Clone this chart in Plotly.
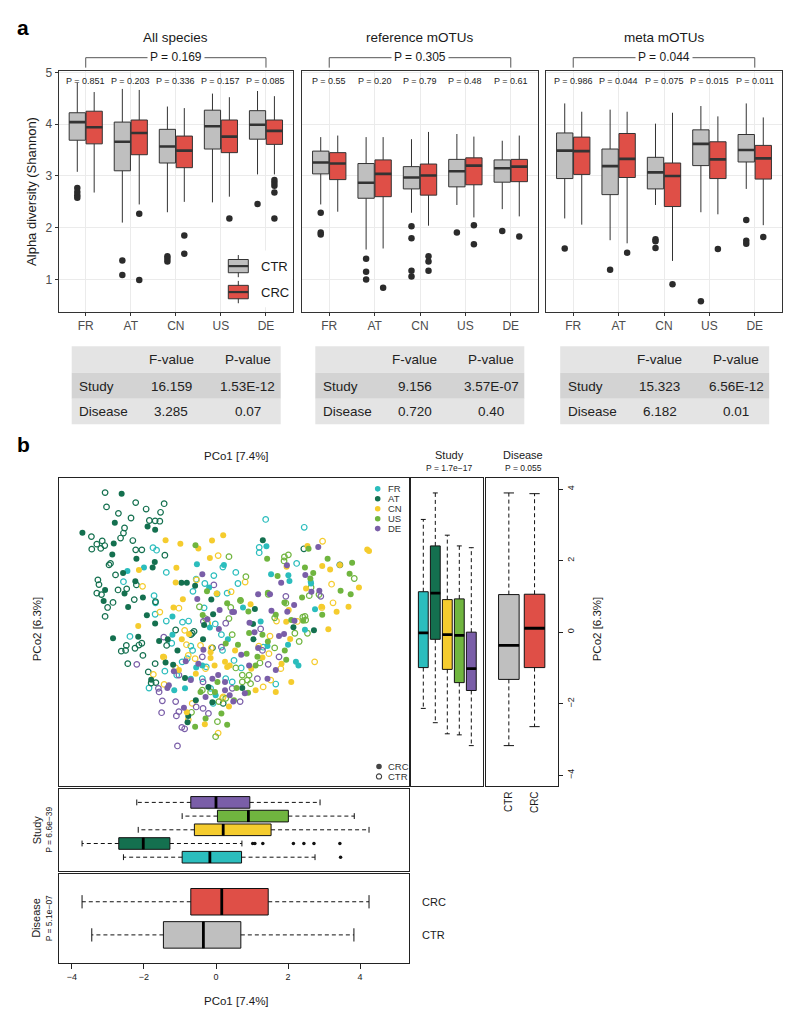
import plotly.graph_objects as go

W, H = 800, 1025

COUNTRIES = ["FR", "AT", "CN", "US", "DE"]
CTR_FILL = "#bfbfbf"
CRC_FILL = "#df4f47"
STUDY_COLORS = ["#2bbdbd", "#14704f", "#f5cc2e", "#70b53f", "#7a5ea8"]

# ---------------- panel a : alpha diversity  [low whisker, Q1, median, Q3, high whisker]
ALL_CTR = [[3.08, 3.69, 4.04, 4.22, 4.80], [2.10, 3.10, 3.66, 4.04, 4.68], [2.30, 3.25, 3.57, 3.90, 4.34],
           [2.49, 3.52, 3.96, 4.27, 4.59], [3.03, 3.71, 3.99, 4.26, 4.64]]
ALL_CRC = [[2.68, 3.62, 3.94, 4.25, 4.62], [2.45, 3.41, 3.83, 4.08, 4.66], [2.50, 3.16, 3.49, 3.77, 4.31],
           [2.60, 3.45, 3.76, 4.08, 4.52], [3.03, 3.61, 3.87, 4.08, 4.54]]
ALL_CTR_OUT = [[2.77, 2.69, 2.63, 2.58], [1.37, 1.09], [1.45, 1.40, 1.35], [], [2.46]]
ALL_CRC_OUT = [[], [2.27, 0.99], [1.85, 1.50], [2.18], [2.92, 2.87, 2.81, 2.68, 2.18]]

REF_CTR = [[2.45, 3.04, 3.26, 3.48, 3.75], [1.58, 2.57, 2.87, 3.24, 3.75], [2.29, 2.75, 2.97, 3.18, 3.71],
           [2.44, 2.79, 3.09, 3.32, 3.81], [2.36, 2.88, 3.15, 3.31, 3.68]]
REF_CRC = [[2.31, 2.93, 3.24, 3.45, 3.78], [1.60, 2.60, 3.04, 3.31, 3.75], [2.04, 2.63, 3.01, 3.23, 3.85],
           [2.20, 2.83, 3.20, 3.35, 3.76], [2.22, 2.89, 3.18, 3.32, 3.78]]
REF_CTR_OUT = [[2.29, 1.91, 1.87], [1.40, 1.15, 1.00], [2.03, 1.80, 1.17, 1.06], [1.91], [1.94]]
REF_CRC_OUT = [[], [0.84], [1.45, 1.35, 1.17], [2.05, 1.68], [1.83]]

META_CTR = [[2.18, 2.95, 3.49, 3.83, 4.40], [1.76, 2.64, 3.19, 3.52, 4.28], [2.44, 2.75, 3.07, 3.36, 4.01],
            [2.30, 3.20, 3.62, 3.89, 4.35], [2.75, 3.27, 3.50, 3.80, 4.40]]
META_CRC = [[2.06, 3.03, 3.48, 3.75, 4.24], [1.70, 2.97, 3.33, 3.82, 4.24], [1.36, 2.41, 3.00, 3.25, 4.22],
            [2.26, 2.95, 3.32, 3.66, 4.15], [2.05, 2.94, 3.34, 3.59, 4.13]]
META_CTR_OUT = [[1.60], [1.19], [1.78, 1.74, 1.61], [0.58], [2.15, 1.75, 1.69]]
META_CRC_OUT = [[], [1.52], [0.91], [1.59], [1.82]]

PANEL_TITLES = ["All species", "reference mOTUs", "meta mOTUs"]
OVERALL_P = ["P = 0.169", "P = 0.305", "P = 0.044"]
ALL_P = ["P = 0.851", "P = 0.203", "P = 0.336", "P = 0.157", "P = 0.085"]
REF_P = ["P = 0.55", "P = 0.20", "P = 0.79", "P = 0.48", "P = 0.61"]
META_P = ["P = 0.986", "P = 0.044", "P = 0.075", "P = 0.015", "P = 0.011"]

TABLE_HEAD = ["F-value", "P-value"]
TABLE_ROWS = ["Study", "Disease"]
ALL_F = ["16.159", "3.285"]
ALL_PV = ["1.53E-12", "0.07"]
REF_F = ["9.156", "0.720"]
REF_PV = ["3.57E-07", "0.40"]
META_F = ["15.323", "6.182"]
META_PV = ["6.56E-12", "0.01"]

# ---------------- panel b : PCoA (PCo1, PCo2)
FR_CRC = [(-2.46, 1.71), (-2.00, 1.81), (-0.53, 1.90), (-1.21, 0.44), (-0.17, 0.13), (0.22, 1.88), (-0.19, 1.25),
          (1.40, 2.40), (1.53, 1.62), (2.01, 1.59), (2.04, 1.43), (2.63, 1.41), (0.75, 0.69), (2.75, 0.64),
          (1.24, 0.30), (2.47, 0.07), (2.64, 1.36), (-1.21, -0.07), (-0.55, -0.99), (-0.86, -1.57),
          (-0.38, -0.93), (-1.16, -1.62), (-0.70, -1.30), (0.33, -0.20), (-0.01, -1.76), (2.00, -0.35),
          (2.22, -0.83), (2.29, -0.93), (1.43, -0.39)]
FR_CTR = [(-1.75, 2.36), (-1.65, 2.29), (-1.38, 1.67), (-2.57, 1.41), (-1.72, 1.02), (-1.68, 0.82), (-1.69, 0.50),
          (-1.38, 0.31), (-0.93, 0.28), (-0.76, 0.31), (-0.06, 1.58), (-0.55, 1.48), (-0.31, 1.36), (-0.64, 1.14),
          (0.19, 1.82), (0.03, 1.07), (0.31, 1.09), (-0.33, 0.68), (-0.25, 0.23), (-0.02, 0.23), (1.38, 3.15),
          (2.45, 2.93), (1.20, 2.37), (1.20, 2.22), (2.24, 1.92), (0.55, 1.67), (0.61, 1.36), (-2.39, -0.12),
          (-1.86, -1.56), (-1.42, -1.09), (-1.23, -0.31), (-1.09, -1.20), (-0.94, -0.83), (-0.80, -0.74),
          (-0.70, -0.39), (-0.65, -0.51), (-0.38, -1.30), (-0.27, -0.97), (-0.15, -1.57), (-0.08, -1.99),
          (0.15, -0.07), (0.18, -0.51), (0.27, -1.30), (0.45, -1.39), (1.31, -0.42), (0.70, -1.00),
          (1.66, -1.45), (0.50, -0.79)]
AT_CRC = [(-2.62, 3.87), (-2.81, 3.06), (-3.71, 2.78), (-1.90, 2.95), (-1.69, 2.86), (-2.84, 2.48), (-2.88, 2.17),
          (-2.21, 2.05), (-1.70, 1.96), (-1.76, 1.81), (-2.58, 1.65), (-2.24, 1.42), (-3.08, 1.18), (-2.54, 1.08),
          (-3.12, 0.87), (-2.44, 0.70), (-2.03, 0.97), (-1.92, 0.47), (-1.69, 0.24), (-0.96, 1.38), (-0.81, 1.38),
          (-0.58, 1.30), (-0.08, 0.50), (-0.13, 0.91), (-0.33, 0.20), (1.30, 2.57), (1.08, 0.65), (1.03, 0.23),
          (2.15, 0.14), (2.72, 0.05), (-2.86, -0.17), (-2.16, -0.13), (-1.58, -0.25), (-1.34, -0.20),
          (-1.07, -0.51), (-1.40, -0.85), (-1.19, -0.91), (-1.80, -1.33), (-0.86, -1.28), (-0.56, -1.90),
          (-0.79, -2.52), (-0.77, -2.34), (-0.36, -0.20), (-0.21, -1.53), (-0.10, -1.96), (0.73, -1.56),
          (1.04, -0.20)]
AT_CTR = [(-3.08, 3.90), (-3.04, 3.50), (-2.71, 3.32), (-2.23, 3.62), (-1.94, 3.44), (-1.44, 3.59), (-1.54, 3.35),
          (-2.36, 3.19), (-1.85, 3.12), (-1.69, 3.11), (-1.56, 3.10), (-2.54, 2.91), (-2.57, 2.77), (-2.65, 2.63),
          (-3.46, 2.67), (-3.31, 2.46), (-3.16, 2.55), (-3.20, 2.34), (-3.09, 2.42), (-3.45, 2.32), (-2.31, 2.56),
          (-2.23, 2.30), (-2.06, 2.30), (-1.42, 2.15), (-2.93, 1.92), (-2.97, 1.88), (-2.79, 1.60), (-3.28, 1.46),
          (-3.25, 1.33), (-3.31, 1.09), (-3.18, 1.05), (-2.72, 1.18), (-2.48, 1.21), (-2.86, 0.83), (-3.01, 0.69),
          (-3.08, 0.44), (-2.21, 1.32), (-2.27, 0.91), (-1.68, 0.85), (-0.61, 0.02), (-1.12, 0.06), (2.44, 2.33),
          (3.44, 1.88), (-2.63, -0.53), (-2.51, -0.51), (-2.49, -0.37), (-2.25, -0.45), (-2.14, -0.36),
          (-2.06, -0.31), (-2.03, -0.65), (-2.45, -0.88), (-1.69, -0.88), (-1.88, -1.11), (-1.67, -1.41),
          (-1.80, -1.42), (-1.37, -0.37), (-0.70, -0.07), (-0.10, -0.44), (0.20, -1.99), (-0.66, -0.03)]
CN_CRC = [(-1.40, 2.57), (-0.99, 2.47), (-0.11, 2.56), (0.20, 2.71), (-0.49, 2.34), (-0.17, 2.07), (-2.14, 1.74),
          (-1.10, 1.80), (-1.12, 1.39), (-0.92, 0.92), (-1.18, 0.69), (-2.16, 0.17), (0.02, 1.08), (2.54, 2.41),
          (1.96, 1.83), (2.95, 1.85), (3.17, 1.75), (2.50, 1.22), (3.97, 1.25), (3.68, 0.71), (3.35, 0.57),
          (2.93, 0.71), (0.96, 0.78), (4.20, 2.31), (4.25, 2.27), (3.12, 0.08), (2.02, 0.62), (1.95, 0.29),
          (3.44, 1.88), (-0.95, -0.20), (-1.47, -0.69), (-1.03, -1.06), (-0.56, -1.16), (-0.15, -0.72),
          (-0.04, -0.93), (0.25, -0.83), (0.38, -0.93), (0.31, -0.97), (-0.31, -2.57), (-0.15, -0.56),
          (-0.81, -2.24), (0.36, -2.08), (-0.75, -0.05), (2.06, -0.19), (1.29, -0.71), (1.82, -0.88),
          (0.98, -1.02), (2.09, -1.39), (1.66, -1.67), (1.10, -1.62), (0.53, -0.51)]
CN_CTR = [(-2.04, 1.28), (-0.54, 1.46), (0.06, 2.14), (-1.03, 0.67), (-1.56, 0.56), (-0.87, 0.05), (-0.23, 0.25),
          (0.42, 1.13), (2.96, 2.54), (3.21, 1.34), (3.25, 0.82), (2.94, 0.69), (1.68, 0.31), (0.81, 1.40),
          (2.26, 0.30), (-1.74, -1.18), (-1.45, -0.70), (-1.44, -1.46), (-1.12, -1.00), (-0.82, -0.35),
          (-0.77, -0.65), (-0.58, -0.74), (-0.43, -0.37), (-0.13, -0.44), (-0.29, -1.02), (0.18, -1.85),
          (0.20, -1.81), (0.06, -2.82), (-0.66, -1.99), (-0.77, -2.45), (1.47, -0.60), (1.80, -1.02),
          (2.74, -0.83), (1.52, -1.34), (1.31, -1.53), (1.50, -0.11), (1.19, -0.39)]
US_CRC = [(-0.57, 2.43), (-0.25, 1.14), (-0.37, 0.48), (0.31, 0.81), (2.57, 2.33), (1.42, 2.05), (3.10, 2.05),
          (3.78, 1.94), (2.47, 1.81), (2.70, 1.65), (1.71, 1.57), (2.62, 1.50), (3.71, 1.63), (3.46, 1.16),
          (3.74, 1.06), (2.39, 0.97), (1.44, 1.10), (1.90, 0.83), (2.95, 0.49), (1.66, 0.49), (0.90, 0.58),
          (0.68, 0.90), (2.09, 0.34), (2.42, 0.32), (-0.03, -1.67), (-0.58, -2.64), (0.31, -2.59), (0.15, -2.27),
          (-0.29, -2.41), (0.27, -0.32), (0.04, -1.39), (-0.43, -1.67), (0.61, -0.35), (0.85, -0.60),
          (1.15, -0.69), (1.44, -0.26), (1.91, -0.51), (1.95, -0.77), (1.10, -0.93), (0.57, -1.56),
          (0.89, -1.69), (0.50, -1.90), (0.92, -0.02), (1.29, -0.07)]
US_CTR = [(0.36, 2.11), (-0.46, 0.71), (-0.29, 0.38), (0.41, 0.69), (0.36, 0.38), (1.90, 2.10), (2.01, 2.16),
          (1.89, 1.99), (0.83, 1.55), (3.84, 1.50), (2.64, 1.25), (2.59, 1.02), (2.86, 1.05), (1.45, 1.06),
          (1.94, 0.81), (0.68, 0.88), (2.41, 0.42), (2.49, 0.34), (2.47, 0.44), (1.63, 0.40), (-0.01, -2.92),
          (0.04, -2.50), (-0.68, -2.24), (-0.38, -1.62), (-0.15, -1.67), (0.27, -1.85), (0.08, -1.94),
          (0.45, -0.07), (0.55, -1.00), (0.73, -1.20), (0.92, -1.20), (0.73, -1.39), (0.96, -1.44),
          (1.22, -0.86), (1.63, -0.44), (2.31, -0.26), (2.54, -0.03), (2.19, -0.03), (0.87, -1.34)]
DE_CRC = [(-0.38, 1.62), (-0.52, 0.93), (0.10, 0.62), (0.45, 0.56), (-0.24, 0.36), (0.08, 0.09), (2.84, 2.38),
          (1.97, 1.87), (2.48, 1.60), (1.81, 1.38), (2.65, 1.13), (2.87, 1.16), (1.17, 1.06), (1.50, 1.06),
          (2.17, 0.76), (1.54, 0.60), (1.98, 0.57), (0.50, 0.56), (0.93, 0.26), (2.18, 0.32), (-1.35, -1.56),
          (-1.31, -1.48), (-1.17, -1.09), (-0.84, -0.81), (-0.70, -1.34), (-0.49, -0.88), (-0.35, -0.49),
          (-0.10, -1.30), (0.06, -1.20), (0.25, -1.39), (0.38, -1.76), (-0.29, -1.81), (-0.89, -2.11),
          (0.25, -1.62), (0.48, -1.94), (1.75, -0.11), (1.89, -0.05), (1.17, -0.44), (0.92, -0.93),
          (1.66, -1.06), (1.43, -1.30), (0.80, -1.71), (0.70, -0.63), (1.07, 0.00)]
DE_CTR = [(-0.06, 1.32), (-0.35, 0.30), (0.27, 0.25), (1.94, 1.00), (2.91, 1.00), (1.24, 0.09), (-2.20, -0.90),
          (-1.60, -1.57), (-1.58, -1.67), (-1.49, -1.92), (-1.51, -2.25), (-1.12, -1.94), (-1.10, -2.34),
          (-1.03, -2.22), (-0.95, -2.66), (-0.87, -2.70), (-1.07, -3.18), (-0.38, -0.69), (-0.36, -1.39),
          (-0.21, -2.27), (-0.36, -2.13), (-1.45, -0.14), (-1.03, -1.20), (0.15, -0.42), (0.45, -1.57),
          (-0.55, -2.09), (1.29, -0.51), (1.75, -0.69), (1.45, -0.90), (1.15, -1.30), (0.67, -1.94)]

# marginal boxplots  [low whisker, Q1, median, Q3, high whisker]
STUDY_PCO2 = [[-2.13, -0.99, -0.02, 1.13, 3.15], [-2.53, -0.20, 1.09, 2.41, 3.89], [-2.84, -1.04, -0.07, 0.91, 2.71],
              [-2.87, -1.41, -0.09, 0.93, 2.41], [-3.17, -1.63, -1.02, 0.00, 2.36]]
DISEASE_PCO2 = [[-3.17, -1.32, -0.37, 1.05, 3.89], [-2.64, -0.99, 0.11, 1.06, 3.87]]
STUDY_PCO1 = [[-2.57, -0.94, -0.17, 0.71, 2.75], [-3.72, -2.70, -2.02, -1.28, 0.72], [-2.16, -0.60, 0.20, 1.53, 4.25],
              [-0.94, 0.04, 0.90, 2.01, 3.84], [-2.20, -0.70, 0.00, 0.94, 2.89]]
STUDY_PCO1_OUT = [[3.46], [1.02, 1.08, 1.30, 2.15, 2.44, 2.72, 3.44], [], [], []]
DISEASE_PCO1 = [[-3.45, -1.46, -0.35, 0.69, 3.83], [-3.72, -0.70, 0.16, 1.45, 4.25]]

PCO1_LABEL = "PCo1 [7.4%]"
PCO2_LABEL = "PCo2 [6.3%]"
STUDY_P_PCO2 = "P = 1.7e\u221217"
DISEASE_P_PCO2 = "P = 0.055"
STUDY_P_PCO1 = "P = 6.6e\u221239"
DISEASE_P_PCO1 = "P = 5.1e\u221207"

FONT = "Liberation Sans, Arial, Helvetica, sans-serif"


def xp(v):
    return v / W


def yp(v):
    return 1 - v / H


fig = go.Figure()
layout = {}
annotations = []
shapes = []


def ann(text, x, y, size, color="#1a1a1a", xanchor="center", yanchor="middle", angle=0,
        xref="paper", yref="paper", bold=False, bg=None, pad=1, family=FONT):
    d = dict(text=("<b>%s</b>" % text) if bold else text, x=x, y=y, xref=xref, yref=yref,
             xanchor=xanchor, yanchor=yanchor, showarrow=False, textangle=angle,
             font=dict(size=size, color=color, family=family), borderpad=pad)
    if bg:
        d["bgcolor"] = bg
    annotations.append(d)


def sfx(n):
    return "" if n == 1 else str(n)


# ================= panel a =================
PANEL_A_X = [(58.7, 293.0), (302.0, 538.0), (546.0, 782.0)]
A_TOP, A_BOT = 65.7, 307.5
OFF = 0.1875
BOXW = 0.36

panel_data = [(ALL_CTR, ALL_CRC, ALL_CTR_OUT, ALL_CRC_OUT, ALL_P),
              (REF_CTR, REF_CRC, REF_CTR_OUT, REF_CRC_OUT, REF_P),
              (META_CTR, META_CRC, META_CTR_OUT, META_CRC_OUT, META_P)]
tables = [(ALL_F, ALL_PV), (REF_F, REF_PV), (META_F, META_PV)]
TABLE_LEFT = [71.7, 315.3, 560.2]
TABLE_W = 209.0

for k in range(3):
    n = k + 1
    xa, ya = "x" + sfx(n), "y" + sfx(n)
    x0, x1 = PANEL_A_X[k]
    layout["xaxis" + sfx(n)] = dict(
        domain=[xp(x0), xp(x1)], anchor=ya, range=[0.4, 5.6], tickmode="array",
        tickvals=[1, 2, 3, 4, 5], ticktext=COUNTRIES, showgrid=True, gridcolor="#ebebeb", gridwidth=1,
        zeroline=False, showline=True, mirror=True, linecolor="#333333", linewidth=1,
        ticks="outside", ticklen=3, tickcolor="#333333", tickfont=dict(size=12, color="#4d4d4d"))
    layout["yaxis" + sfx(n)] = dict(
        domain=[yp(A_BOT), yp(A_TOP)], anchor=xa, range=[0.38, 5.02], tickmode="array",
        tickvals=[1, 2, 3, 4, 5], showgrid=True, gridcolor="#ebebeb", gridwidth=1, zeroline=False,
        showline=True, mirror=True, linecolor="#333333", linewidth=1,
        ticks="outside" if k == 0 else "", ticklen=3, tickcolor="#333333",
        showticklabels=(k == 0), tickfont=dict(size=12, color="#4d4d4d"))

    ctr, crc, ctr_out, crc_out, pvals = panel_data[k]
    for stats, outs, off, fill in [(ctr, ctr_out, -OFF, CTR_FILL), (crc, crc_out, OFF, CRC_FILL)]:
        pos = [i + 1 + off for i in range(5)]
        fig.add_trace(go.Box(
            x=pos, lowerfence=[s[0] for s in stats], q1=[s[1] for s in stats],
            median=[s[2] for s in stats], q3=[s[3] for s in stats], upperfence=[s[4] for s in stats],
            orientation="v", width=BOXW, fillcolor=fill, line=dict(color="#333333", width=1),
            whiskerwidth=0, boxpoints=False, xaxis=xa, yaxis=ya, hoverinfo="skip"))
        mx, my = [], []
        for p, s in zip(pos, stats):
            mx += [p - BOXW / 2, p + BOXW / 2, None]
            my += [s[2], s[2], None]
        fig.add_trace(go.Scatter(x=mx, y=my, mode="lines", line=dict(color="#333333", width=2.6),
                                 xaxis=xa, yaxis=ya, hoverinfo="skip"))
        ox, oy = [], []
        for p, o in zip(pos, outs):
            ox += [p] * len(o)
            oy += o
        fig.add_trace(go.Scatter(x=ox, y=oy, mode="markers", marker=dict(color="#2b2b2b", size=6.5),
                                 xaxis=xa, yaxis=ya, hoverinfo="skip"))

    # titles and brackets
    cx = (x0 + x1) / 2
    ann(PANEL_TITLES[k], xp(cx), yp(32), 13.5)
    shapes.append(dict(type="line", xref=xa, yref="paper", x0=1, x1=5, y0=yp(52), y1=yp(52),
                       line=dict(color="#555555", width=1)))
    for xe in (1, 5):
        shapes.append(dict(type="line", xref=xa, yref="paper", x0=xe, x1=xe, y0=yp(52), y1=yp(62),
                           line=dict(color="#555555", width=1)))
    ann(OVERALL_P[k], 3, yp(51.5), 12, xref=xa, bg="white", pad=2)
    for i, t in enumerate(pvals):
        ann(t, i + 1, yp(75.7), 9, color="#222222", xref=xa)

    # ANOVA table
    L = TABLE_LEFT[k]
    fvals, pv = tables[k]
    rows_y = [(342.3, 369.0, "#e4e4e4"), (369.0, 395.0, "#d3d3d3"), (395.0, 420.7, "#e4e4e4")]
    for (ty0, ty1, col) in rows_y:
        shapes.append(dict(type="rect", xref="paper", yref="paper", x0=xp(L), x1=xp(L + TABLE_W),
                           y0=yp(ty1), y1=yp(ty0), fillcolor=col, line=dict(width=0), layer="below"))
    ann(TABLE_HEAD[0], xp(L + 99.3), yp(356), 13.5, color="#222222")
    ann(TABLE_HEAD[1], xp(L + 176), yp(356), 13.5, color="#222222")
    for r, ry in enumerate([382.3, 408.0]):
        ann(TABLE_ROWS[r], xp(L + 5.6), yp(ry), 13.5, color="#222222", xanchor="left")
        ann(fvals[r], xp(L + 99.3), yp(ry), 13.5, color="#222222")
        ann(pv[r], xp(L + 176), yp(ry), 13.5, color="#222222")

ann("Alpha diversity (Shannon)", xp(31.5), yp(186.5), 13, angle=-90)
ann("a", xp(22.5), yp(22), 21, color="#000000", bold=True)

# legend of panel a
shapes.append(dict(type="rect", xref="paper", yref="paper", x0=xp(221), x1=xp(292.3), y0=yp(303), y1=yp(246),
                   fillcolor="white", line=dict(width=0), layer="above"))
for (gy0, gy1, fill, lab) in [(255.0, 268.3, CTR_FILL, "CTR"), (281.0, 294.5, CRC_FILL, "CRC")]:
    shapes.append(dict(type="line", xref="paper", yref="paper", x0=xp(238.3), x1=xp(238.3),
                       y0=yp(gy0 - 4.5), y1=yp(gy1 + 4.5), line=dict(color="#333333", width=1), layer="above"))
    shapes.append(dict(type="rect", xref="paper", yref="paper", x0=xp(228.3), x1=xp(248.3),
                       y0=yp(gy1), y1=yp(gy0), fillcolor=fill, line=dict(color="#333333", width=1),
                       layer="above"))
    shapes.append(dict(type="line", xref="paper", yref="paper", x0=xp(228.3), x1=xp(248.3),
                       y0=yp((gy0 + gy1) / 2), y1=yp((gy0 + gy1) / 2), line=dict(color="#333333", width=2.2),
                       layer="above"))
    ann(lab, xp(259), yp((gy0 + gy1) / 2 + 0.5), 13, xanchor="left")

# ================= panel b =================
S_L, S_R, S_T, S_B = 59.0, 409.0, 474.7, 785.0
XR = [-4.36, 5.36]
YR = [-4.31, 4.31]
FRAME = dict(showline=True, mirror=True, linecolor="#222222", linewidth=1, zeroline=False,
             showgrid=False, showticklabels=False, ticks="")

layout["xaxis4"] = dict(domain=[xp(S_L), xp(S_R)], anchor="y4", range=XR, **FRAME)
layout["yaxis4"] = dict(domain=[yp(S_B), yp(S_T)], anchor="x4", range=YR, **FRAME)
layout["xaxis5"] = dict(domain=[xp(411.3), xp(483.3)], anchor="y5", range=[0, 6], **FRAME)
layout["yaxis5"] = dict(domain=[yp(S_B), yp(S_T)], anchor="x5", range=YR, **FRAME)
fr6 = dict(FRAME)
fr6.update(showticklabels=True, tickmode="array", tickvals=[1, 2], ticktext=["CTR", "CRC"], tickangle=-90,
           tickfont=dict(size=10, color="#1a1a1a"))
layout["xaxis6"] = dict(domain=[xp(485.7), xp(557.7)], anchor="y6", range=[0.1, 2.9], **fr6)
fy6 = dict(FRAME)
fy6.update(showticklabels=True, ticks="outside", ticklen=4, tickcolor="#222222", tickmode="array",
           tickvals=[-4, -2, 0, 2, 4], tickangle=-90, tickfont=dict(size=9, color="#1a1a1a"), side="right")
layout["yaxis6"] = dict(domain=[yp(S_B), yp(S_T)], anchor="x6", range=YR, **fy6)
layout["xaxis7"] = dict(domain=[xp(S_L), xp(S_R)], anchor="y7", range=XR, **FRAME)
layout["yaxis7"] = dict(domain=[yp(870.0), yp(787.3)], anchor="x7", range=[0, 6], **FRAME)
fx8 = dict(FRAME)
fx8.update(showticklabels=True, ticks="outside", ticklen=5, tickcolor="#222222", tickmode="array",
           tickvals=[-4, -2, 0, 2, 4], tickfont=dict(size=9, color="#1a1a1a"))
layout["xaxis8"] = dict(domain=[xp(S_L), xp(S_R)], anchor="y8", range=XR, **fx8)
layout["yaxis8"] = dict(domain=[yp(962.7), yp(872.7)], anchor="x8", range=[0.15, 2.85], **FRAME)

# scatter
groups = [(FR_CTR, FR_CRC), (AT_CTR, AT_CRC), (CN_CTR, CN_CRC), (US_CTR, US_CRC), (DE_CTR, DE_CRC)]
for c, (ctr, crc) in enumerate(groups):
    col = STUDY_COLORS[c]
    fig.add_trace(go.Scatter(x=[p[0] for p in ctr], y=[p[1] for p in ctr], mode="markers",
                             marker=dict(symbol="circle-open", size=5.6, color=col, line=dict(width=1.2, color=col)),
                             xaxis="x4", yaxis="y4", hoverinfo="skip"))
for c, (ctr, crc) in enumerate(groups):
    col = STUDY_COLORS[c]
    fig.add_trace(go.Scatter(x=[p[0] for p in crc], y=[p[1] for p in crc], mode="markers",
                             marker=dict(symbol="circle", size=6, color=col, line=dict(width=0)),
                             xaxis="x4", yaxis="y4", hoverinfo="skip"))


def r_boxes(stats, positions, fills, width, xa, ya, horizontal=False, outliers=None):
    cap = width / 2
    wa, wb, ca, cb, ma, mb = [], [], [], [], [], []
    for p, s, f in zip(positions, stats, fills):
        lo, q1, med, q3, hi = s
        if horizontal:
            fig.add_trace(go.Box(y=[p], q1=[q1], median=[med], q3=[q3], lowerfence=[q1], upperfence=[q3],
                                 orientation="h", width=width, fillcolor=f, line=dict(color="#111111", width=1),
                                 whiskerwidth=0, boxpoints=False, xaxis=xa, yaxis=ya, hoverinfo="skip"))
        else:
            fig.add_trace(go.Box(x=[p], q1=[q1], median=[med], q3=[q3], lowerfence=[q1], upperfence=[q3],
                                 orientation="v", width=width, fillcolor=f, line=dict(color="#111111", width=1),
                                 whiskerwidth=0, boxpoints=False, xaxis=xa, yaxis=ya, hoverinfo="skip"))
        wa += [q3, hi, None, q1, lo, None]
        wb += [p, p, None, p, p, None]
        ca += [hi, hi, None, lo, lo, None]
        cb += [p - cap / 2, p + cap / 2, None, p - cap / 2, p + cap / 2, None]
        ma += [med, med, None]
        mb += [p - width / 2, p + width / 2, None]
    for (a, b, ln) in [(wa, wb, dict(color="#111111", width=1, dash="4px,3px")),
                       (ca, cb, dict(color="#111111", width=1)),
                       (ma, mb, dict(color="#000000", width=2.8))]:
        if horizontal:
            fig.add_trace(go.Scatter(x=a, y=b, mode="lines", line=ln, xaxis=xa, yaxis=ya, hoverinfo="skip"))
        else:
            fig.add_trace(go.Scatter(x=b, y=a, mode="lines", line=ln, xaxis=xa, yaxis=ya, hoverinfo="skip"))
    if outliers:
        oa, ob = [], []
        for p, o in zip(positions, outliers):
            oa += o
            ob += [p] * len(o)
        if horizontal:
            fig.add_trace(go.Scatter(x=oa, y=ob, mode="markers", marker=dict(color="#111111", size=3.5),
                                     xaxis=xa, yaxis=ya, hoverinfo="skip"))
        else:
            fig.add_trace(go.Scatter(x=ob, y=oa, mode="markers", marker=dict(color="#111111", size=3.5),
                                     xaxis=xa, yaxis=ya, hoverinfo="skip"))


r_boxes(STUDY_PCO2, [1, 2, 3, 4, 5], STUDY_COLORS, 0.82, "x5", "y5")
r_boxes(DISEASE_PCO2, [1, 2], [CTR_FILL, CRC_FILL], 0.8, "x6", "y6")
r_boxes(STUDY_PCO1, [1, 2, 3, 4, 5], STUDY_COLORS, 0.85, "x7", "y7", horizontal=True, outliers=STUDY_PCO1_OUT)
r_boxes(DISEASE_PCO1, [1, 2], [CTR_FILL, CRC_FILL], 0.8, "x8", "y8", horizontal=True)

# panel b texts
ann("b", xp(23), yp(441), 21, color="#000000", bold=True)
ann(PCO1_LABEL, xp(236), yp(452.5), 11.5)
ann(PCO2_LABEL, xp(37), yp(627), 11.5, angle=-90)
ann("Study", xp(449), yp(452), 11)
ann(STUDY_P_PCO2, xp(449), yp(464.5), 8.5)
ann("Disease", xp(523), yp(452), 11)
ann(DISEASE_P_PCO2, xp(523), yp(464.5), 8.5)
ann(PCO2_LABEL, xp(597), yp(627), 11.5, angle=-90)
ann("Study", xp(36.5), yp(828.7), 11, angle=-90)
ann(STUDY_P_PCO1, xp(49), yp(828.7), 8.5, angle=-90)
ann("Disease", xp(36.5), yp(917.7), 11, angle=-90)
ann(DISEASE_P_PCO1, xp(49), yp(917.7), 8.5, angle=-90)
ann("CRC", xp(420), 2, 11, xanchor="left", yref="y8")
ann("CTR", xp(420), 1, 11, xanchor="left", yref="y8")
ann(PCO1_LABEL, xp(236), yp(1000.7), 11.5)

# scatter legends
for c, name in enumerate(COUNTRIES):
    cy = 485.7 + 10 * c
    shapes.append(dict(type="circle", xref="paper", yref="paper", x0=xp(377.7 - 2.8), x1=xp(377.7 + 2.8),
                       y0=yp(cy + 2.8), y1=yp(cy - 2.8), fillcolor=STUDY_COLORS[c], line=dict(width=0)))
    ann(name, xp(385.5), yp(cy), 9.5, color="#333333", xanchor="left")
shapes.append(dict(type="circle", xref="paper", yref="paper", x0=xp(379 - 2.8), x1=xp(379 + 2.8),
                   y0=yp(765 + 2.8), y1=yp(765 - 2.8), fillcolor="#444444", line=dict(width=0)))
shapes.append(dict(type="circle", xref="paper", yref="paper", x0=xp(379 - 2.6), x1=xp(379 + 2.6),
                   y0=yp(775 + 2.6), y1=yp(775 - 2.6), fillcolor="rgba(0,0,0,0)",
                   line=dict(color="#444444", width=1.1)))
ann("CRC", xp(385.5), yp(765), 9.5, color="#333333", xanchor="left")
ann("CTR", xp(385.5), yp(775), 9.5, color="#333333", xanchor="left")

fig.update_layout(
    width=W, height=H, margin=dict(l=0, r=0, t=0, b=0), showlegend=False,
    paper_bgcolor="white", plot_bgcolor="white", font=dict(family=FONT, color="#1a1a1a"),
    annotations=annotations, shapes=shapes, boxmode="overlay", **layout)

fig.write_html("out.html", config={"displayModeBar": False},
               post_script="document.body.style.margin='0';")
